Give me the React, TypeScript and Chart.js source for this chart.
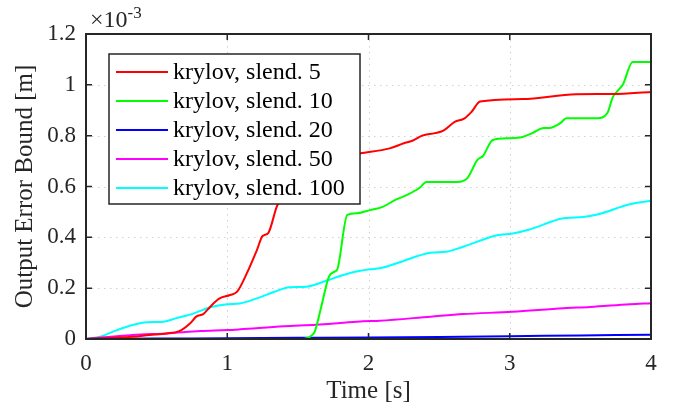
import React, { useEffect, useRef } from "react";
import { Chart, registerables } from "chart.js";
Chart.register(...registerables);

const xTicks = [0, 1, 2, 3, 4];
const yTicks = [0, 0.2, 0.4, 0.6, 0.8, 1, 1.2];
const xTitle = "Time [s]";
const yTitle = "Output Error Bound [m]";

const labels = [
  "krylov, slend. 5",
  "krylov, slend. 10",
  "krylov, slend. 20",
  "krylov, slend. 50",
  "krylov, slend. 100",
];
const colors = ["#ff0000", "#00ff00", "#0000ff", "#ff00ff", "#00ffff"];

// values in units of 1e-3 m
const t5 = [0, 0.33, 0.45, 0.57, 0.66, 0.74, 0.78, 0.83, 0.88, 0.94, 1.02, 1.07, 1.14, 1.21, 1.25, 1.29, 1.35, 1.42, 1.5, 1.6, 1.75, 1.94, 2.15, 2.25, 2.31, 2.38, 2.47, 2.53, 2.61, 2.68, 2.73, 2.79, 3.09, 3.47, 3.73, 4.0];
const e5 = [0, 0.009, 0.016, 0.022, 0.031, 0.063, 0.088, 0.098, 0.127, 0.158, 0.173, 0.186, 0.26, 0.35, 0.405, 0.417, 0.52, 0.6, 0.66, 0.69, 0.71, 0.73, 0.75, 0.77, 0.78, 0.8, 0.81, 0.82, 0.854, 0.868, 0.894, 0.934, 0.944, 0.963, 0.964, 0.972];

const t10 = [0, 1.54, 1.6, 1.62, 1.66, 1.72, 1.76, 1.78, 1.85, 1.92, 2.01, 2.1, 2.19, 2.27, 2.36, 2.41, 2.63, 2.7, 2.77, 2.81, 2.88, 3.0, 3.09, 3.16, 3.24, 3.28, 3.36, 3.4, 3.62, 3.69, 3.73, 3.77, 3.8, 3.87, 4.0];
const e10 = [0, 0, 0.015, 0.03, 0.114, 0.245, 0.265, 0.275, 0.488, 0.495, 0.507, 0.52, 0.547, 0.566, 0.594, 0.618, 0.618, 0.633, 0.704, 0.72, 0.783, 0.79, 0.795, 0.81, 0.83, 0.83, 0.85, 0.869, 0.869, 0.888, 0.952, 0.98, 1.0, 1.09, 1.09];

const t20 = [0, 0.5, 1, 1.5, 2, 2.5, 3, 3.5, 4];
const e20 = [0, 0.0015, 0.003, 0.0045, 0.006, 0.008, 0.011, 0.014, 0.017];

const t50 = [0, 0.33, 0.57, 0.81, 1.0, 1.09, 1.4, 1.63, 1.8, 1.96, 2.08, 2.44, 2.67, 3.02, 3.38, 3.57, 3.85, 4.0];
const e50 = [0, 0.016, 0.022, 0.031, 0.035, 0.038, 0.05, 0.056, 0.063, 0.07, 0.072, 0.088, 0.098, 0.107, 0.121, 0.126, 0.137, 0.141];

const t100 = [0, 0.1, 0.22, 0.33, 0.43, 0.55, 0.64, 0.76, 0.88, 1.0, 1.09, 1.21, 1.33, 1.44, 1.56, 1.68, 1.8, 1.87, 2.01, 2.08, 2.2, 2.44, 2.55, 2.67, 2.91, 3.02, 3.14, 3.38, 3.52, 3.62, 3.85, 4.0];
const e100 = [0, 0.009, 0.035, 0.055, 0.066, 0.068, 0.082, 0.1, 0.125, 0.137, 0.14, 0.16, 0.185, 0.204, 0.206, 0.225, 0.248, 0.26, 0.274, 0.278, 0.298, 0.339, 0.343, 0.363, 0.408, 0.415, 0.431, 0.475, 0.48, 0.49, 0.53, 0.544];

const seriesT = [t5, t10, t20, t50, t100];
const seriesE = [e5, e10, e20, e50, e100];

const FONT = "'Liberation Serif', 'Times New Roman', serif";
const AX = "#262626";

const framePlugin = {
  id: "frame",
  beforeDatasetsDraw(chart: any) {
    const { ctx, chartArea: a, scales } = chart;
    const x = scales.x, y = scales.y;
    ctx.save();
    ctx.strokeStyle = "#d0d0d0";
    ctx.lineWidth = 1;
    ctx.setLineDash([1.5, 4.5]);
    for (const v of xTicks) {
      const px = Math.round(x.getPixelForValue(v)) + 0.5;
      if (px < a.left + 2 || px > a.right - 2) continue;
      ctx.beginPath();
      ctx.moveTo(px, a.top);
      ctx.lineTo(px, a.bottom);
      ctx.stroke();
    }
    for (const v of yTicks) {
      const py = Math.round(y.getPixelForValue(v)) + 0.5;
      if (py < a.top + 2 || py > a.bottom - 2) continue;
      ctx.beginPath();
      ctx.moveTo(a.left, py);
      ctx.lineTo(a.right, py);
      ctx.stroke();
    }
    ctx.restore();
  },
  afterDraw(chart: any) {
    const { ctx, chartArea: a, scales } = chart;
    const x = scales.x, y = scales.y;
    ctx.save();
    ctx.setLineDash([]);
    ctx.strokeStyle = AX;
    ctx.lineWidth = 1.5;
    const tl = 6;
    for (const v of xTicks) {
      const px = x.getPixelForValue(v);
      ctx.beginPath();
      ctx.moveTo(px, a.bottom);
      ctx.lineTo(px, a.bottom - tl);
      ctx.moveTo(px, a.top);
      ctx.lineTo(px, a.top + tl);
      ctx.stroke();
    }
    for (const v of yTicks) {
      const py = y.getPixelForValue(v);
      ctx.beginPath();
      ctx.moveTo(a.left, py);
      ctx.lineTo(a.left + tl, py);
      ctx.moveTo(a.right, py);
      ctx.lineTo(a.right - tl, py);
      ctx.stroke();
    }
    ctx.lineWidth = 2;
    ctx.strokeRect(a.left, a.top, a.right - a.left, a.bottom - a.top);

    // exponent label
    ctx.fillStyle = AX;
    ctx.textBaseline = "alphabetic";
    ctx.textAlign = "left";
    ctx.font = `24px ${FONT}`;
    ctx.fillText("\u00d710", a.left + 4, a.top - 7);
    const w = ctx.measureText("\u00d710").width;
    ctx.font = `17px ${FONT}`;
    ctx.fillText("-3", a.left + 4 + w, a.top - 16);

    // legend
    const lx = 109, ly = 54, lw = 251, lh = 150;
    ctx.fillStyle = "#ffffff";
    ctx.fillRect(lx, ly, lw, lh);
    ctx.strokeStyle = AX;
    ctx.lineWidth = 1.5;
    ctx.strokeRect(lx, ly, lw, lh);
    ctx.font = `24px ${FONT}`;
    ctx.textBaseline = "middle";
    for (let i = 0; i < labels.length; i++) {
      const cy = 72 + i * 29;
      ctx.strokeStyle = colors[i];
      ctx.lineWidth = 2;
      ctx.beginPath();
      ctx.moveTo(116, cy);
      ctx.lineTo(168, cy);
      ctx.stroke();
      ctx.fillStyle = "#000000";
      ctx.fillText(labels[i], 173, cy + 1);
    }
    ctx.restore();
  },
};

export default function App() {
  const ref = useRef<HTMLCanvasElement | null>(null);
  useEffect(() => {
    if (!ref.current) return;
    const datasets = labels.map((lab, i) => ({
      label: lab,
      data: seriesT[i].map((t, j) => ({ x: t, y: seriesE[i][j] })),
      borderColor: colors[i],
      backgroundColor: colors[i],
      borderWidth: 2,
      pointRadius: 0,
      fill: false,
      cubicInterpolationMode: "monotone" as const,
    }));
    const chart = new Chart(ref.current, {
      type: "line",
      data: { datasets },
      options: {
        animation: false,
        responsive: false,
        maintainAspectRatio: false,
        layout: { padding: { left: 0, right: 22, top: 34, bottom: 0 } },
        plugins: { legend: { display: false }, tooltip: { enabled: false } },
        scales: {
          x: {
            type: "linear",
            min: 0,
            max: 4,
            afterBuildTicks: (s: any) => {
              s.ticks = xTicks.map((v) => ({ value: v }));
            },
            afterFit: (s: any) => {
              s.height = 69;
            },
            grid: { display: false, drawTicks: false },
            border: { display: false },
            ticks: {
              color: AX,
              font: { family: FONT, size: 23 },
              padding: 11,
              maxRotation: 0,
              callback: (v: any) => String(v),
            },
            title: {
              display: true,
              text: xTitle,
              color: AX,
              font: { family: FONT, size: 25 },
              padding: { top: 0, bottom: 2 },
            },
          },
          y: {
            type: "linear",
            min: 0,
            max: 1.2,
            afterBuildTicks: (s: any) => {
              s.ticks = yTicks.map((v) => ({ value: v }));
            },
            afterFit: (s: any) => {
              s.width = 86;
            },
            grid: { display: false, drawTicks: false },
            border: { display: false },
            ticks: {
              color: AX,
              font: { family: FONT, size: 23 },
              padding: 10,
              callback: (v: any) => String(+Number(v).toFixed(1)),
            },
            title: {
              display: true,
              text: yTitle,
              color: AX,
              font: { family: FONT, size: 25 },
              padding: { top: 10, bottom: 0 },
            },
          },
        },
      },
      plugins: [framePlugin],
    });
    return () => chart.destroy();
  }, []);
  return (
    <div style={{ position: "absolute", left: 0, top: 0, width: 673, height: 408, background: "#fff" }}>
      <canvas ref={ref} width={673} height={408} style={{ width: 673, height: 408 }} />
    </div>
  );
}
